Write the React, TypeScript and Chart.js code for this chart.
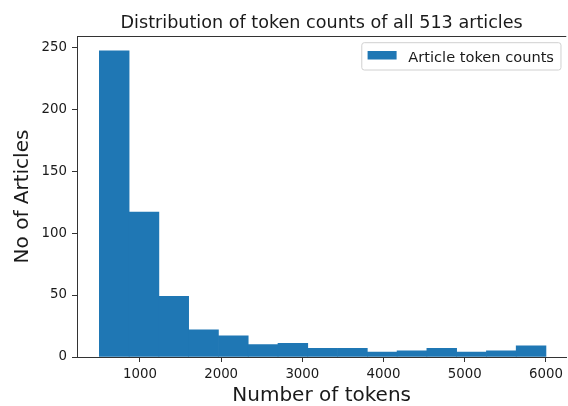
import React, { useEffect, useRef } from 'react';
import { Chart, registerables } from 'chart.js';

Chart.register(...registerables);

const binEdges = [500, 866.7, 1233.3, 1600, 1966.7, 2333.3, 2700, 3066.7, 3433.3, 3800, 4166.7, 4533.3, 4900, 5266.7, 5633.3, 6000];
const counts = [247, 117, 49, 22, 17, 10, 11, 7, 7, 4, 5, 7, 4, 5, 9];
const xTicks = [1000, 2000, 3000, 4000, 5000, 6000];
const yTicks = [0, 50, 100, 150, 200, 250];
const chartTitle = 'Distribution of token counts of all 513 articles';
const xLabel = 'Number of tokens';
const yLabel = 'No of Articles';
const seriesLabel = 'Article token counts';

const FONT = "'DejaVu Sans', sans-serif";
const TEXT = '#1a1a1a';
const AXIS = '#333333';
const BAR = '#1f77b4';

const frameAndLegend = {
  id: 'frameAndLegend',
  afterDatasetsDraw(chart: any) {
    const { ctx, chartArea } = chart;
    ctx.save();
    // top spine
    const yTop = Math.round(chartArea.top) + 0.5;
    ctx.strokeStyle = AXIS;
    ctx.lineWidth = 1;
    ctx.beginPath();
    ctx.moveTo(chartArea.left, yTop);
    ctx.lineTo(chartArea.right, yTop);
    ctx.stroke();

    // legend
    const label = chart.data.datasets[0].label as string;
    ctx.font = `14.6px ${FONT}`;
    const tw = ctx.measureText(label).width;
    const boxRight = chartArea.right - 5.3;
    const boxTop = chartArea.top + 6.7;
    const boxH = 27.3;
    const textX = boxRight - 7 - tw;
    const swR = textX - 11.7;
    const swL = swR - 29;
    const boxL = swL - 5.8;
    const r = 2.5;
    ctx.beginPath();
    ctx.moveTo(boxL + r, boxTop);
    ctx.lineTo(boxRight - r, boxTop);
    ctx.quadraticCurveTo(boxRight, boxTop, boxRight, boxTop + r);
    ctx.lineTo(boxRight, boxTop + boxH - r);
    ctx.quadraticCurveTo(boxRight, boxTop + boxH, boxRight - r, boxTop + boxH);
    ctx.lineTo(boxL + r, boxTop + boxH);
    ctx.quadraticCurveTo(boxL, boxTop + boxH, boxL, boxTop + boxH - r);
    ctx.lineTo(boxL, boxTop + r);
    ctx.quadraticCurveTo(boxL, boxTop, boxL + r, boxTop);
    ctx.closePath();
    ctx.fillStyle = 'rgba(255,255,255,0.8)';
    ctx.fill();
    ctx.strokeStyle = '#d0d0d0';
    ctx.stroke();

    ctx.fillStyle = BAR;
    ctx.fillRect(swL, boxTop + 8.3, swR - swL, 8.5);

    ctx.fillStyle = TEXT;
    ctx.textBaseline = 'alphabetic';
    ctx.textAlign = 'left';
    ctx.fillText(label, textX, boxTop + 19);
    ctx.restore();
  },
};

export default function App() {
  const canvasRef = useRef<HTMLCanvasElement | null>(null);

  useEffect(() => {
    const canvas = canvasRef.current;
    if (!canvas) return;
    const data = counts.map((c, i) => ({ x: (binEdges[i] + binEdges[i + 1]) / 2, y: c }));
    const chart = new Chart(canvas, {
      type: 'bar',
      data: {
        datasets: [
          {
            label: seriesLabel,
            data: data as any,
            backgroundColor: BAR,
            borderWidth: 0,
            barPercentage: 1,
            categoryPercentage: 1,
          },
        ],
      },
      options: {
        responsive: false,
        animation: false,
        layout: { padding: 0 },
        font: { family: FONT },
        plugins: {
          legend: { display: false },
          tooltip: { enabled: false },
          title: {
            display: true,
            fullSize: false,
            text: chartTitle,
            color: TEXT,
            font: { family: FONT, size: 17.6, weight: 'normal', lineHeight: 1.2 },
            padding: { top: 13.2, bottom: 1.68 },
          },
        },
        scales: {
          x: {
            type: 'linear',
            min: 225,
            max: 6250,
            offset: false,
            afterBuildTicks: (s: any) => {
              s.ticks = xTicks.map((v) => ({ value: v }));
            },
            afterFit: (s: any) => {
              s.height = 49;
            },
            grid: {
              display: true,
              drawOnChartArea: false,
              drawTicks: true,
              tickLength: 5,
              tickColor: AXIS,
              offset: false,
            },
            border: { display: true, color: AXIS, width: 1 },
            ticks: {
              padding: 5,
              color: TEXT,
              font: { family: FONT, size: 13.33 },
              maxRotation: 0,
              autoSkip: false,
              callback: (v: any) => String(v),
            },
            title: {
              display: true,
              text: xLabel,
              color: TEXT,
              font: { family: FONT, size: 20, lineHeight: 1 },
              padding: { top: 0, bottom: 0 },
            },
          },
          y: {
            type: 'linear',
            min: 0,
            max: 259,
            afterBuildTicks: (s: any) => {
              s.ticks = yTicks.map((v) => ({ value: v }));
            },
            afterFit: (s: any) => {
              s.width = 77;
            },
            grid: {
              display: true,
              drawOnChartArea: false,
              drawTicks: true,
              tickLength: 5,
              tickColor: AXIS,
            },
            border: { display: true, color: AXIS, width: 1 },
            ticks: {
              padding: 5,
              color: TEXT,
              font: { family: FONT, size: 13.33 },
              autoSkip: false,
              callback: (v: any) => String(v),
            },
            title: {
              display: true,
              text: yLabel,
              color: TEXT,
              font: { family: FONT, size: 20, lineHeight: 1.2 },
              padding: { top: 10.4, bottom: 0 },
            },
          },
        },
      },
      plugins: [frameAndLegend],
    });
    return () => chart.destroy();
  }, []);

  return (
    <div style={{ position: 'absolute', left: 0, top: 0, width: 568, height: 406, background: '#fff' }}>
      <canvas ref={canvasRef} width={568} height={406} style={{ width: 568, height: 406, display: 'block' }} />
    </div>
  );
}
